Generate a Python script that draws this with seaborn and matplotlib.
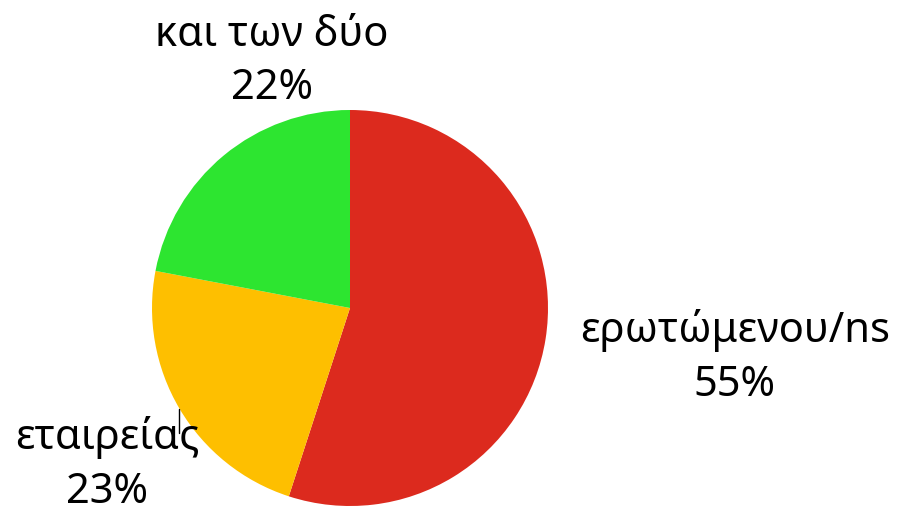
import matplotlib
matplotlib.use("Agg")
import matplotlib.pyplot as plt
import seaborn as sns

# data
categories = ["ερωτώμενου/ns", "εταιρείας", "και των δύο"]
shares = [55, 23, 22]
colors = ["#DC2A1E", "#FEBF00", "#2DE530"]

sns.set_theme(style="white")
plt.rcParams['font.family'] = ['Noto Sans', 'DejaVu Sans']

fig = plt.figure(figsize=(9.06, 5.16), dpi=100)
# square axes so the pie sits where it does in the reference
ax = fig.add_axes([152 / 906, 10 / 516, 396 / 906, 396 / 516])

wedges, _ = ax.pie(shares, colors=colors, startangle=90, counterclock=False,
                   radius=1, wedgeprops=dict(linewidth=0))
ax.set_xlim(-1, 1)
ax.set_ylim(-1, 1)
ax.set_aspect("equal")
ax.axis("off")

# label spots (data coords, radius = 1)
label_xy = [(1.944, -0.25), (-1.227, -0.79), (-0.394, 1.245)]
for name, val, (x, y) in zip(categories, shares, label_xy):
    ax.text(x, y, f"{name}\n{val}%", ha="center", va="center",
            fontsize=30, fontweight="light", color="black",
            linespacing=1.35, clip_on=False)

# the little leader tick beside "εταιρείας"
ax.plot([-0.864, -0.864], [-0.51, -0.63], color="black", lw=1, clip_on=False)

fig.savefig("out.png", dpi=100)
